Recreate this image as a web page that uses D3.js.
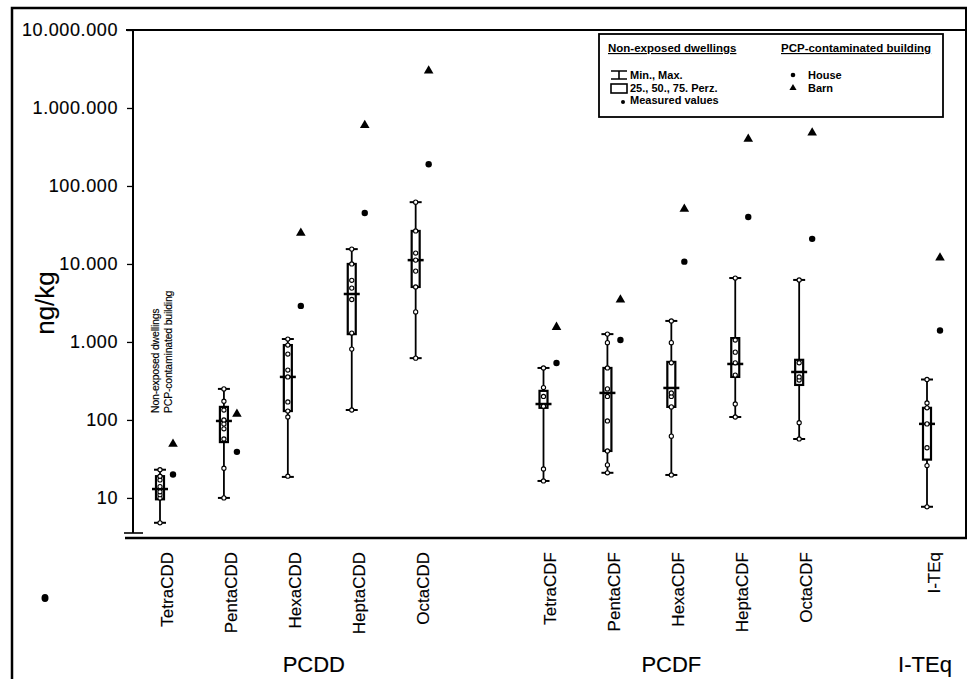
<!DOCTYPE html>
<html><head><meta charset="utf-8">
<script src="https://cdn.jsdelivr.net/npm/d3@7"></script>
<style>
body{margin:0;background:#fff}
svg{display:block}
text{font-family:"Liberation Sans",Arial,Helvetica,sans-serif;fill:#000}
.heavy{stroke:#000;stroke-width:0.15px}
</style>
</head><body>
<svg id="chart" width="980" height="679"></svg>
<script>
// ---------- DATA ----------
const categories = ["TetraCDD","PentaCDD","HexaCDD","HeptaCDD","OctaCDD",
                    "TetraCDF","PentaCDF","HexaCDF","HeptaCDF","OctaCDF","I-TEq"];
const slotOrder = ["TetraCDD","PentaCDD","HexaCDD","HeptaCDD","OctaCDD","gap1",
                   "TetraCDF","PentaCDF","HexaCDF","HeptaCDF","OctaCDF","gap2","I-TEq"];
const groups = ["PCDD","PCDF","I-TEq"];
const mins    = [4.8, 10, 18.6, 134, 620, 16.5, 21, 19.7, 109, 57, 7.7];
const q1s     = [9.6, 52, 130, 1260, 5070, 143, 40, 147, 356, 281, 31];
const medians = [13, 97, 356, 4120, 11200, 160, 222, 257, 522, 412, 89];
const q3s     = [19, 147, 912, 10000, 26500, 236, 464, 555, 1120, 590, 143];
const maxs    = [23, 250, 1090, 15500, 62000, 464, 1260, 1860, 6600, 6240, 330];
const house   = [20, 39, 2900, 45000, 190000, 537, 1060, 10700, 40000, 21000, 1400];
const barn    = [49, 119, 25000, 600000, 3000000, 1550, 3470, 50700, 400000, 480000, 12000];
const measured = [
  [4.8, 10, 11, 12, 14, 17, 19, 23],
  [10, 24, 57, 77, 89, 100, 134, 174, 250],
  [19, 109, 130, 170, 356, 436, 700, 912, 1090],
  [134, 810, 1300, 3500, 4900, 6170, 10000, 15500],
  [620, 2430, 5070, 8100, 11200, 13800, 26500, 62000],
  [16.5, 23.5, 150, 200, 260, 464],
  [21, 26.5, 40, 97, 200, 250, 464, 980, 1260],
  [19.7, 62, 147, 200, 222, 540, 980, 1860],
  [109, 160, 376, 540, 740, 1060, 6600],
  [57, 92, 325, 356, 540, 6240],
  [7.7, 26, 44, 89, 143, 165, 330]
];
const yTicks = [10, 100, 1000, 10000, 100000, 1000000, 10000000];
const yLabel = "ng/kg";
const legendLeftTitle = "Non-exposed dwellings";
const legendRightTitle = "PCP-contaminated building";
const legendLeftItems = ["Min., Max.", "25., 50., 75. Perz.", "Measured values"];
const legendRightItems = ["House", "Barn"];

// ---------- LAYOUT ----------
const svg = d3.select("#chart");
const de = d3.formatLocale({decimal:",", thousands:".", grouping:[3], currency:["",""]});
const fmt = de.format(",d");

const x = d3.scalePoint().domain(slotOrder).range([160, 927]);
const y = d3.scaleLog().domain([3.55, 1e7]).range([533, 30]);

// outer frame
svg.append("path").attr("d","M12,679 L12,8 L967,8")
  .attr("fill","none").attr("stroke","#000").attr("stroke-width",2.5);

// plot frame: top, right, bottom
svg.append("line").attr("x1",126).attr("x2",967).attr("y1",30).attr("y2",30)
  .attr("stroke","#000").attr("stroke-width",2);
svg.append("line").attr("x1",966).attr("x2",966).attr("y1",8).attr("y2",538)
  .attr("stroke","#000").attr("stroke-width",2);
svg.append("line").attr("x1",125).attr("x2",967).attr("y1",538).attr("y2",538)
  .attr("stroke","#000").attr("stroke-width",2.5);
svg.append("line").attr("x1",124).attr("x2",143).attr("y1",533).attr("y2",533)
  .attr("stroke","#000").attr("stroke-width",1.6);

// y axis
const minorTicks = [];
for (let e = 0; e < 7; e++) for (let m = 2; m <= 9; m++) {
  const v = m * Math.pow(10, e);
  if (v >= 3.6 && v < 1e7) minorTicks.push(v);
}
const gy = svg.append("g").attr("transform","translate(133,0)");
gy.call(d3.axisLeft(y).tickValues(minorTicks).tickSize(3).tickFormat(""));
gy.call(d3.axisLeft(y).tickValues(yTicks).tickSize(6).tickPadding(9).tickFormat(fmt));
gy.selectAll(".domain").attr("stroke-width",2).attr("d","M0,30V533");
gy.selectAll("line").attr("stroke-width",1.3);
gy.selectAll("text").attr("font-size",18).attr("letter-spacing","0.6px").attr("class","heavy")
  .style("font-family",'"Liberation Sans",Arial,sans-serif');

// y label
svg.append("text").attr("transform","translate(45,303) rotate(-90)").attr("class","heavy")
  .attr("text-anchor","middle").attr("dy","0.35em").attr("font-size",26).text(yLabel);

// category labels
svg.append("g").selectAll("text").data(categories).join("text").attr("class","heavy")
  .attr("transform", d => `translate(${x(d)+7},552) rotate(-90)`)
  .attr("text-anchor","end").attr("dy","0.35em").attr("font-size",17).text(d => d);

// group labels
const groupPos = [x("HexaCDD") + 26, x("HexaCDF"), x("I-TEq") - 2];
svg.append("g").selectAll("text").data(groups).join("text").attr("class","heavy")
  .attr("x",(d,i)=>groupPos[i]).attr("y",672).attr("text-anchor","middle")
  .attr("font-size",22).text(d=>d);

// annotation near TetraCDD
svg.append("text").attr("transform","translate(155,413) rotate(-90)").attr("class","heavy")
  .attr("dy","0.35em").attr("font-size",10.5).attr("letter-spacing","-0.2px").text(legendLeftTitle);
svg.append("text").attr("transform","translate(168,413) rotate(-90)").attr("class","heavy")
  .attr("dy","0.35em").attr("font-size",10.5).attr("letter-spacing","-0.2px").text(legendRightTitle);

// boxes
const gb = svg.append("g");
categories.forEach((c, i) => {
  const cx = x(c);
  const g = gb.append("g");
  g.append("line").attr("x1",cx).attr("x2",cx).attr("y1",y(mins[i])).attr("y2",y(maxs[i]))
    .attr("stroke","#000").attr("stroke-width",1.8);
  [mins[i], maxs[i]].forEach(v => {
    g.append("line").attr("x1",cx-6).attr("x2",cx+6).attr("y1",y(v)).attr("y2",y(v))
      .attr("stroke","#000").attr("stroke-width",2);
  });
  g.append("rect").attr("x",cx-4).attr("width",8)
    .attr("y",y(q3s[i])).attr("height",y(q1s[i])-y(q3s[i]))
    .attr("fill","#fff").attr("stroke","#000").attr("stroke-width",2.2);
  g.append("line").attr("x1",cx-8).attr("x2",cx+8).attr("y1",y(medians[i])).attr("y2",y(medians[i]))
    .attr("stroke","#000").attr("stroke-width",2.5);
  g.selectAll("circle.m").data(measured[i]).join("circle").attr("class","m")
    .attr("cx",cx).attr("cy",v=>y(v)).attr("r",2.1)
    .attr("fill","#fff").attr("stroke","#000").attr("stroke-width",1.1);
  g.append("circle").attr("cx",cx+13).attr("cy",y(house[i])).attr("r",3.2).attr("fill","#000");
  g.append("path").attr("d",d3.symbol(d3.symbolTriangle).size(40)())
    .attr("transform",`translate(${cx+13},${y(barn[i])})`).attr("fill","#000");
});

// legend
const lg = svg.append("g");
lg.append("rect").attr("x",599).attr("y",34).attr("width",344).attr("height",83)
  .attr("fill","#fff").attr("stroke","#000").attr("stroke-width",1.8);
lg.append("text").attr("x",608).attr("y",52).attr("font-size",11.5).attr("font-weight","bold")
  .attr("text-decoration","underline").text(legendLeftTitle);
lg.append("text").attr("x",781).attr("y",52).attr("font-size",11.5).attr("font-weight","bold")
  .attr("text-decoration","underline").text(legendRightTitle);
lg.append("path").attr("d","M611,71H627M619,71V79M611,79H627").attr("stroke","#000")
  .attr("stroke-width",1.6).attr("fill","none");
lg.append("rect").attr("x",611).attr("y",84).attr("width",16).attr("height",9)
  .attr("fill","#fff").attr("stroke","#000").attr("stroke-width",1.6);
lg.append("circle").attr("cx",623).attr("cy",102).attr("r",2).attr("fill","#000");
lg.selectAll("text.li").data(legendLeftItems).join("text").attr("class","li")
  .attr("x",630).attr("y",(d,i)=>79+i*12.5).attr("font-size",11).attr("font-weight","bold").text(d=>d);
lg.append("circle").attr("cx",793).attr("cy",75).attr("r",2.3).attr("fill","#000");
lg.append("path").attr("d",d3.symbol(d3.symbolTriangle).size(22)())
  .attr("transform","translate(793,88)").attr("fill","#000");
lg.selectAll("text.ri").data(legendRightItems).join("text").attr("class","ri")
  .attr("x",808).attr("y",(d,i)=>79+i*12.5).attr("font-size",11).attr("font-weight","bold").text(d=>d);

// scan blob
svg.append("ellipse").attr("cx",45).attr("cy",598).attr("rx",3.5).attr("ry",4).attr("fill","#000");
</script>
</body></html>
